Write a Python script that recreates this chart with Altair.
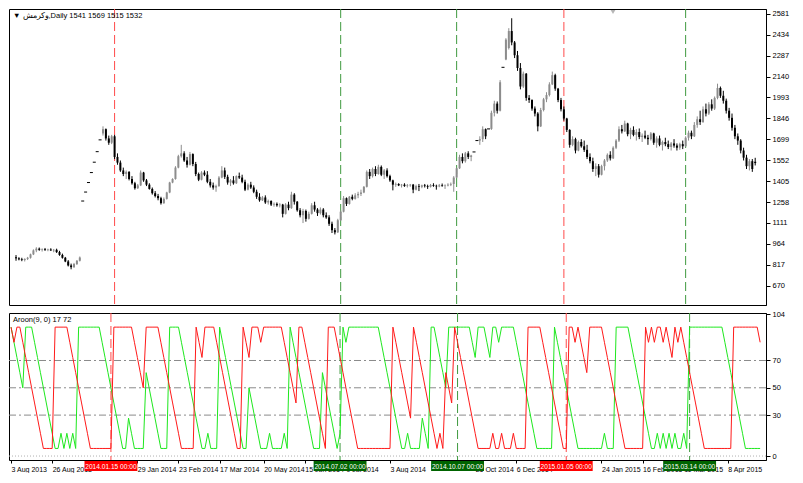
import altair as alt
import pandas as pd

# ---------------- data ----------------
open_ = [
    870, 862, 855, 850, 858, 866, 890, 918, 930, 922,
    926, 920, 924, 918, 922, 906, 886, 866, 840, 812,
    800, 822, 845, 1265, 1328, 1395, 1465, 1538, 1612, 1695,
    1740, 1770, 1705, 1675, 1720, 1575, 1535, 1480, 1455, 1470,
    1420, 1390, 1355, 1375, 1465, 1410, 1380, 1350, 1320, 1300,
    1285, 1250, 1280, 1325, 1395, 1420, 1500, 1580, 1600, 1550,
    1520, 1595, 1525, 1455, 1415, 1465, 1450, 1400, 1375, 1360,
    1370, 1430, 1480, 1435, 1395, 1410, 1390, 1440, 1430, 1400,
    1345, 1380, 1360, 1330, 1295, 1270, 1290, 1255, 1265, 1240,
    1245, 1235, 1240, 1175, 1240, 1215, 1310, 1260, 1200, 1165,
    1195, 1140, 1175, 1235, 1205, 1180, 1205, 1165, 1150, 1105,
    1060, 1045, 1130, 1190, 1285, 1245, 1295, 1280, 1305, 1315,
    1325, 1365, 1470, 1440, 1490, 1455, 1505, 1450, 1480, 1440,
    1410, 1380, 1385, 1375, 1380, 1370, 1375, 1380, 1345, 1370,
    1365, 1375, 1370, 1365, 1378, 1372, 1368, 1375, 1370, 1374,
    1380, 1385, 1430, 1495, 1575, 1545, 1600, 1575, 1610, 1690,
    1690, 1700, 1770, 1772, 1772, 1885, 1950, 1900, 2205, 2260,
    2340, 2460, 2380, 2290, 2200, 2070, 2160, 1990, 1975, 1915,
    1880, 1790, 1905, 1980, 2010, 2085, 2150, 2055, 1975, 1910,
    1845, 1765, 1660, 1700, 1620, 1680, 1650, 1625, 1575, 1545,
    1490, 1510, 1450, 1510, 1550, 1590, 1565, 1640, 1690, 1770,
    1755, 1810, 1735, 1765, 1730, 1750, 1715, 1725, 1710, 1700,
    1740, 1675, 1705, 1660, 1680, 1665, 1645, 1670, 1655, 1640,
    1665, 1650, 1710, 1745, 1720, 1800, 1840, 1820, 1910, 1880,
    1945, 1915, 1990, 2060, 2005, 1970, 1900, 1850, 1780, 1720,
    1690, 1620, 1570, 1510, 1545, 1541,
]
high = [
    885, 870, 866, 862, 872, 895, 925, 940, 938, 932,
    935, 930, 933, 928, 930, 915, 895, 872, 850, 825,
    830, 850, 875, 1265, 1328, 1395, 1465, 1538, 1612, 1695,
    1790, 1775, 1725, 1730, 1730, 1600, 1550, 1500, 1480, 1475,
    1440, 1400, 1385, 1480, 1470, 1420, 1390, 1360, 1335, 1315,
    1295, 1290, 1330, 1400, 1425, 1510, 1590, 1660, 1615, 1575,
    1610, 1600, 1540, 1465, 1475, 1480, 1475, 1420, 1395, 1380,
    1440, 1510, 1500, 1450, 1420, 1440, 1445, 1465, 1450, 1415,
    1390, 1400, 1375, 1345, 1320, 1300, 1305, 1275, 1270, 1255,
    1255, 1250, 1245, 1250, 1260, 1330, 1320, 1265, 1215, 1210,
    1205, 1190, 1250, 1260, 1215, 1220, 1215, 1185, 1165, 1120,
    1075, 1140, 1200, 1300, 1290, 1300, 1310, 1320, 1330, 1345,
    1370, 1480, 1490, 1500, 1510, 1520, 1515, 1490, 1495, 1450,
    1415, 1395, 1390, 1385, 1390, 1385, 1385, 1385, 1380, 1385,
    1380, 1385, 1380, 1385, 1390, 1380, 1385, 1388, 1382, 1390,
    1395, 1440, 1500, 1590, 1600, 1610, 1615, 1590, 1610, 1690,
    1720, 1790, 1775, 1772, 1900, 1970, 1965, 2115, 2205, 2410,
    2480, 2550, 2390, 2320, 2235, 2175, 2165, 2010, 1980, 1930,
    1890, 1920, 1990, 2030, 2100, 2175, 2160, 2060, 1990, 1930,
    1850, 1770, 1720, 1710, 1690, 1700, 1690, 1660, 1600, 1570,
    1530, 1525, 1520, 1560, 1600, 1615, 1650, 1700, 1790, 1800,
    1830, 1815, 1780, 1790, 1770, 1775, 1740, 1760, 1730, 1750,
    1745, 1720, 1725, 1690, 1710, 1690, 1680, 1700, 1670, 1675,
    1690, 1720, 1760, 1760, 1820, 1860, 1900, 1930, 1950, 1960,
    1980, 2000, 2090, 2070, 2040, 1985, 1920, 1880, 1800, 1740,
    1700, 1640, 1590, 1560, 1560, 1569,
]
low = [
    845, 848, 842, 840, 850, 860, 885, 905, 915, 910,
    915, 912, 914, 905, 900, 880, 860, 835, 805, 785,
    795, 815, 840, 1265, 1328, 1395, 1465, 1538, 1612, 1695,
    1725, 1690, 1660, 1665, 1560, 1520, 1470, 1440, 1420, 1410,
    1380, 1345, 1350, 1370, 1400, 1370, 1345, 1310, 1290, 1270,
    1240, 1245, 1275, 1320, 1390, 1415, 1495, 1570, 1540, 1500,
    1515, 1510, 1440, 1405, 1410, 1440, 1390, 1360, 1345, 1330,
    1365, 1425, 1420, 1380, 1370, 1380, 1385, 1420, 1390, 1335,
    1340, 1350, 1320, 1280, 1260, 1265, 1245, 1240, 1230, 1225,
    1225, 1220, 1150, 1170, 1200, 1210, 1240, 1190, 1150, 1110,
    1120, 1135, 1170, 1190, 1160, 1170, 1150, 1140, 1090, 1040,
    1030, 1040, 1125, 1185, 1230, 1240, 1270, 1275, 1285, 1300,
    1320, 1360, 1420, 1430, 1440, 1450, 1440, 1420, 1430, 1400,
    1340, 1365, 1370, 1360, 1365, 1360, 1365, 1320, 1340, 1335,
    1355, 1360, 1350, 1360, 1365, 1345, 1362, 1366, 1350, 1368,
    1370, 1330, 1425, 1490, 1530, 1535, 1560, 1545, 1610, 1690,
    1660, 1680, 1700, 1772, 1765, 1860, 1880, 1895, 2205, 2255,
    2330, 2360, 2270, 2180, 2050, 2060, 1970, 1955, 1900, 1860,
    1755, 1785, 1895, 1960, 2000, 2080, 2040, 1960, 1895, 1830,
    1750, 1640, 1650, 1600, 1615, 1640, 1610, 1560, 1530, 1470,
    1440, 1430, 1445, 1480, 1540, 1550, 1560, 1630, 1680, 1740,
    1750, 1720, 1700, 1720, 1690, 1700, 1680, 1700, 1660, 1690,
    1660, 1640, 1650, 1620, 1650, 1630, 1620, 1640, 1620, 1625,
    1630, 1645, 1690, 1700, 1715, 1780, 1800, 1815, 1860, 1870,
    1900, 1905, 1980, 1990, 1950, 1880, 1830, 1760, 1700, 1660,
    1600, 1550, 1490, 1480, 1470, 1515,
]
close = [
    862, 855, 850, 858, 866, 890, 918, 930, 922, 926,
    920, 924, 918, 922, 906, 886, 866, 840, 812, 800,
    822, 845, 868, 1265, 1328, 1395, 1465, 1538, 1612, 1695,
    1770, 1705, 1675, 1720, 1575, 1535, 1480, 1455, 1470, 1420,
    1390, 1355, 1375, 1465, 1410, 1380, 1350, 1320, 1300, 1285,
    1250, 1280, 1325, 1395, 1420, 1500, 1580, 1600, 1550, 1520,
    1595, 1525, 1455, 1415, 1465, 1450, 1400, 1375, 1360, 1370,
    1430, 1480, 1435, 1395, 1410, 1390, 1440, 1430, 1400, 1345,
    1380, 1360, 1330, 1295, 1270, 1290, 1255, 1265, 1240, 1245,
    1235, 1240, 1175, 1240, 1215, 1310, 1260, 1200, 1165, 1195,
    1140, 1175, 1235, 1205, 1180, 1205, 1165, 1150, 1105, 1060,
    1045, 1130, 1190, 1285, 1245, 1295, 1280, 1305, 1315, 1325,
    1365, 1470, 1440, 1490, 1455, 1505, 1450, 1480, 1440, 1410,
    1380, 1385, 1375, 1380, 1370, 1375, 1380, 1345, 1370, 1365,
    1375, 1370, 1365, 1378, 1372, 1368, 1375, 1370, 1374, 1380,
    1385, 1430, 1495, 1575, 1545, 1600, 1575, 1585, 1610, 1690,
    1700, 1770, 1720, 1772, 1885, 1950, 1900, 2100, 2205, 2400,
    2460, 2380, 2290, 2200, 2070, 2160, 1990, 1975, 1915, 1880,
    1790, 1905, 1980, 2010, 2085, 2150, 2055, 1975, 1910, 1845,
    1765, 1660, 1700, 1620, 1680, 1650, 1625, 1575, 1545, 1490,
    1510, 1450, 1510, 1550, 1590, 1565, 1640, 1690, 1770, 1755,
    1810, 1735, 1765, 1730, 1750, 1715, 1725, 1710, 1700, 1740,
    1675, 1705, 1660, 1680, 1665, 1645, 1670, 1655, 1640, 1665,
    1650, 1710, 1745, 1720, 1800, 1840, 1820, 1910, 1880, 1945,
    1915, 1990, 2060, 2005, 1970, 1900, 1850, 1780, 1720, 1690,
    1620, 1570, 1510, 1545, 1490, 1532,
]

price_ticks = [670, 817, 964, 1111, 1258, 1405, 1552, 1699, 1846, 1993, 2140, 2287, 2434, 2581]
aroon_ticks = [0, 30, 50, 70, 104]
aroon_levels = [30, 50, 70]

# date labels that are visible (at least partly) in the reference
date_tick_bar = [0, 14, 43, 57, 71, 86, 100, 114, 129, 158, 172, 201, 215, 229, 244]
date_tick_text = ["3 Aug 2013", "26 Aug 2013", "29 Jan 2014", "23 Feb 2014",
                  "17 Mar 2014", "20 May 2014", "15 Jun 2014", "9 Jul 2014", "3 Aug 2014",
                  "26 Oct 2014", "6 Dec 2014", "24 Jan 2015",
                  "16 Feb 2015", "11 Mar 2015", "8 Apr 2015"]

event_bar = [34, 112, 152, 189, 231]
event_text = ["2014.01.15 00:00", "2014.07.02 00:00", "2014.10.07 00:00",
              "2015.01.05 00:00", "2015.03.14 00:00"]
event_kind = ["red", "green", "green", "red", "green"]

header_text = "\u25BC وکرمش,Daily  1541 1569 1515 1532"
aroon_text = "Aroon(9, 0) 17 72"

# ---------------- tables ----------------
n = min(len(open_), len(high), len(low), len(close))
period = 9
aroon_up, aroon_dn = [], []
for i in range(n):
    s = max(0, i - period + 1)
    hh = max(high[s:i + 1])
    ll = min(low[s:i + 1])
    kh = i - max(j for j in range(s, i + 1) if high[j] == hh)
    kl = i - max(j for j in range(s, i + 1) if low[j] == ll)
    aroon_up.append(100 * (period - 0.5 - kh) / period)
    aroon_dn.append(100 * (period - 0.5 - kl) / period)

bars = pd.DataFrame({
    "i": list(range(n)), "open": open_[:n], "high": high[:n],
    "low": low[:n], "close": close[:n], "up": aroon_up, "down": aroon_dn,
})
line_col = {"red": "#ff4a4a", "green": "#3f9a3f"}
box_col = {"red": "#ff0000", "green": "#006400"}
events = pd.DataFrame({
    "i": event_bar, "label": event_text,
    "line": [line_col[k] for k in event_kind],
    "box": [box_col[k] for k in event_kind],
})

# ---------------- layout ----------------
W, H1, H2 = 757, 296, 147
FONT = "Liberation Sans"
xs = alt.Scale(domain=[-0.7, 257], nice=False, zero=False)
ps = alt.Scale(domain=[534, 2615], nice=False, zero=False)
ars = alt.Scale(domain=[-2.9, 104.8], nice=False, zero=False)

price_axis = alt.Axis(orient="right", values=price_ticks, title=None, grid=False, format="d",
                      tickSize=4, labelPadding=2, labelFontSize=7.5)
aroon_axis = alt.Axis(orient="right", values=aroon_ticks, title=None, grid=False, format="d",
                      tickSize=4, labelPadding=2, labelFontSize=7.5)

label_expr = " : ".join(f"datum.value == {v} ? '{t}'" for v, t in zip(date_tick_bar, date_tick_text)) + " : ''"
x_axis = alt.Axis(values=date_tick_bar, labelExpr=label_expr, title=None, grid=False,
                  labelAlign="left", labelBaseline="top", tickSize=3, labelPadding=2,
                  labelFontSize=7, labelOverlap=False, labelFlush=False, labelBound=False,
                  domain=False)

up_down = alt.condition("datum.close >= datum.open", alt.value("#8c8c8c"), alt.value("#000000"))

# price panel
px = alt.X("i:Q", scale=xs, axis=None)
base = alt.Chart(bars)
ev_rule_p = alt.Chart(events).mark_rule(strokeDash=[9, 4], strokeWidth=1).encode(
    x=px, color=alt.Color("line:N", scale=None))
wick = base.mark_rule(strokeWidth=1).encode(
    x=px, y=alt.Y("low:Q", scale=ps, axis=price_axis), y2="high:Q", color=up_down)
body = base.mark_bar(width=2).encode(
    x=px, y=alt.Y("open:Q", scale=ps, axis=price_axis), y2="close:Q", color=up_down)
doji = base.transform_filter("datum.high == datum.low").mark_rule(
    strokeWidth=1, xOffset=-1.5, x2Offset=1.5, color="#000000").encode(
    x=px, x2="i:Q", y=alt.Y("close:Q", scale=ps, axis=price_axis))
header = alt.Chart(pd.DataFrame({"t": [header_text]})).mark_text(
    align="left", baseline="top", fontSize=7.5, font=FONT, color="#000000").encode(
    x=alt.value(4), y=alt.value(3), text="t:N")
shift_mark = alt.Chart(pd.DataFrame({"t": [0]})).mark_point(
    shape="triangle-down", filled=True, size=22, color="#b5b5b5", opacity=1).encode(
    x=alt.value(round((620 - 3) / 773 * W)), y=alt.value(3))

price_chart = alt.layer(ev_rule_p, wick, body, doji, header, shift_mark).properties(width=W, height=H1)

# aroon panel
ax = alt.X("i:Q", scale=xs, axis=x_axis)
lvl = alt.Chart(pd.DataFrame({"v": aroon_levels})).mark_rule(
    color="#8a8a8a", strokeDash=[7, 3, 2, 3], strokeWidth=1).encode(
    y=alt.Y("v:Q", scale=ars, axis=aroon_axis))
zero_line = alt.Chart(pd.DataFrame({"v": [0]})).mark_rule(
    color="#b0b0b0", strokeDash=[1, 2], strokeWidth=1).encode(
    y=alt.Y("v:Q", scale=ars, axis=aroon_axis))
ev_rule_a = alt.Chart(events).mark_rule(strokeDash=[9, 4], strokeWidth=1).encode(
    x=ax, color=alt.Color("line:N", scale=None))
up_line = base.mark_line(color="#1ee81e", strokeWidth=1).encode(
    x=ax, y=alt.Y("up:Q", scale=ars, axis=aroon_axis))
dn_line = base.mark_line(color="#ff1a1a", strokeWidth=1).encode(
    x=ax, y=alt.Y("down:Q", scale=ars, axis=aroon_axis))
boxes = alt.Chart(events).transform_calculate(
    x0="datum.i - 9", x1="datum.i + 9").mark_rect().encode(
    x=alt.X("x0:Q", scale=xs, axis=x_axis), x2="x1:Q",
    y=alt.value(H2 + 1), y2=alt.value(H2 + 11), color=alt.Color("box:N", scale=None))
box_text = alt.Chart(events).mark_text(
    color="#ffffff", fontSize=6.6, font=FONT, align="center", baseline="middle").encode(
    x=ax, y=alt.value(H2 + 6.5), text="label:N")
aroon_title = alt.Chart(pd.DataFrame({"t": [aroon_text]})).mark_text(
    align="left", baseline="top", fontSize=7.5, font=FONT, color="#000000").encode(
    x=alt.value(4), y=alt.value(3), text="t:N")

aroon_chart = alt.layer(lvl, zero_line, ev_rule_a, up_line, dn_line, boxes, box_text,
                        aroon_title).properties(width=W, height=H2)

chart = alt.vconcat(price_chart, aroon_chart, spacing=3).properties(
    padding=0, background="white"
).configure_view(stroke="#000000", strokeWidth=1).configure_axis(
    labelFont=FONT, labelColor="#000000", tickColor="#000000", domainColor="#000000"
)

chart.save("out.html", embed_options={"renderer": "svg", "actions": False})
